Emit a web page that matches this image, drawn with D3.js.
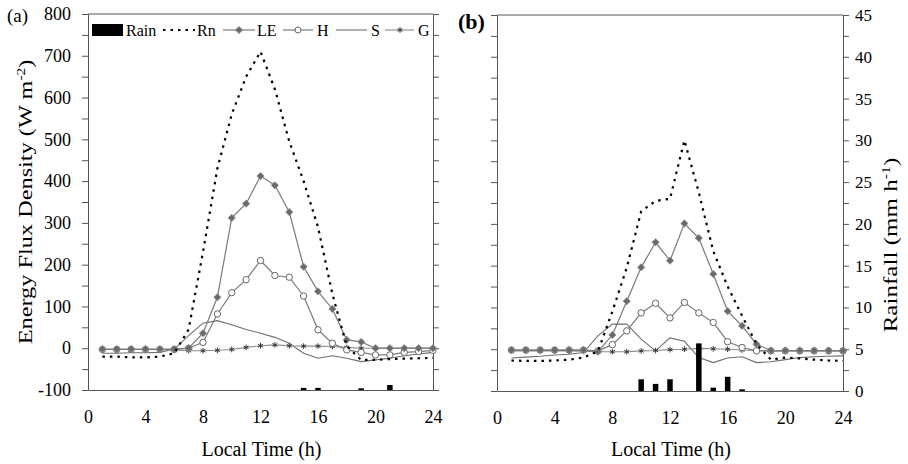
<!DOCTYPE html>
<html>
<head>
<meta charset="utf-8">
<script src="https://cdn.jsdelivr.net/npm/d3@7"></script>
<style>
    body { margin: 0; background: #fff; }
    svg text { font-family: "Liberation Serif", "Times New Roman", "DejaVu Serif", serif; fill: #000; }
    .axis text { font-size: 18px; }
    .axis.rain text { font-size: 17px; }
    .axis path, .axis line { stroke: #555; stroke-width: 1; }
</style>
</head>
<body>
<div id="chart"></div>
<script>
// Hour of day (categories)
const hours = [1, 2, 3, 4, 5, 6, 7, 8, 9, 10, 11, 12, 13, 14, 15, 16, 17, 18, 19, 20, 21, 22, 23, 24];

// Panel (a) - energy fluxes (W m-2) and rainfall (mm h-1)
const rnA = [-20, -20, -22, -22, -20, -12, 45, 230, 430, 560, 650, 710, 620, 495, 400, 290, 130, 5, -28, -28, -26, -25, -24, -23];
const leA = [-2, -2, -2, -2, -2, -2, 0, 36, 122, 312, 346, 412, 390, 326, 195, 136, 94, 20, 15, 0, 0, 0, 0, 0];
const hA = [-3, -3, -3, -3, -3, -3, 0, 14, 82, 133, 164, 210, 174, 170, 125, 44, 12, -4, -10, -16, -16, -10, -8, -5];
const sA = [-12, -12, -11, -11, -10, -2, 30, 60, 66, 56, 45, 36, 26, 12, -12, -24, -18, -24, -32, -28, -24, -18, -14, -10];
const gA = [-3, -3, -3, -3, -3, -4, -6, -6, -5, -3, 2, 6, 8, 6, 5, 5, 4, 2, 0, 0, 0, 0, 0, 0];
const rainA = [0, 0, 0, 0, 0, 0, 0, 0, 0, 0, 0, 0, 0, 0, 0.25, 0.25, 0, 0, 0.2, 0, 0.6, 0, 0, 0];

// Panel (b)
const rnB = [-27, -28, -28, -27, -25, -20, -5, 90, 195, 330, 355, 360, 500, 375, 235, 150, 80, 12, -25, -20, -22, -25, -27, -28];
const leB = [-2, -2, -2, -2, -2, -2, -6, 34, 115, 196, 256, 212, 301, 266, 180, 91, 56, 12, -3, -3, -3, -3, -3, -3];
const hB = [-2, -2, -2, -2, -2, -2, -4, 11, 44, 87, 110, 75, 112, 87, 64, 18, 4, -4, -4, -4, -4, -4, -4, -4];
const sB = [-21, -19, -17, -14, -12, -8, 32, 60, 60, 24, -4, 27, 19, -20, -32, -21, -18, -32, -30, -25, -20, -18, -17, -16];
const gB = [-4, -4, -4, -4, -4, -5, -6, -6, -6, -4, -3, -1, 0, 2, 1, 0, -2, -3, -4, -4, -4, -4, -4, -4];
const rainB = [0, 0, 0, 0, 0, 0, 0, 0, 0, 1.4, 0.85, 1.4, 0, 5.7, 0.4, 1.7, 0.2, 0, 0, 0, 0, 0, 0, 0];

// Axis ticks
const xTickLabels = [0, 4, 8, 12, 16, 20, 24];
const fluxTicks = [-100, -50, 0, 50, 100, 150, 200, 250, 300, 350, 400, 450, 500, 550, 600, 650, 700, 750, 800];
const rainTicks = [0, 2.5, 5, 7.5, 10, 12.5, 15, 17.5, 20, 22.5, 25, 27.5, 30, 32.5, 35, 37.5, 40, 42.5, 45];

const width = 908, height = 464;
const svg = d3.select('#chart').append('svg')
    .attr('width', width)
    .attr('height', height);

const lineGray = '#7a7a7a';
const asterisk = d3.symbolAsterisk || d3.symbolCross;
const diamond = d3.symbol().type(d3.symbolSquare).size(26);

function drawPanel(opt) {
    const x = d3.scaleLinear().domain([0, 24]).range([opt.left, opt.right]);
    const y = d3.scaleLinear().domain([-100, 800]).range([opt.bottom, opt.top]);
    const yRain = d3.scaleLinear().domain([0, 45]).range([opt.bottom, opt.top]);
    const g = svg.append('g');

    // frame: top line
    g.append('line')
        .attr('x1', opt.left).attr('x2', opt.right)
        .attr('y1', opt.top).attr('y2', opt.top)
        .attr('stroke', '#555');

    // bottom axis (no ticks)
    g.append('g').attr('class', 'axis')
        .attr('transform', `translate(0,${opt.bottom})`)
        .call(d3.axisBottom(x).tickValues(xTickLabels).tickSize(0).tickPadding(20).tickFormat(d3.format('d')));

    // left flux axis
    g.append('g').attr('class', 'axis')
        .attr('transform', `translate(${opt.left},0)`)
        .call(d3.axisLeft(y).tickValues(fluxTicks).tickSize(6).tickSizeOuter(0).tickPadding(11)
            .tickFormat(d => (opt.leftLabels && d % 100 === 0) ? d : ''));

    if (opt.rainAxis) {
        g.append('g').attr('class', 'axis rain')
            .attr('transform', `translate(${opt.right},0)`)
            .call(d3.axisRight(yRain).tickValues(rainTicks).tickSize(6).tickSizeOuter(0).tickPadding(6)
                .tickFormat(d => d % 5 === 0 ? d : ''));
    } else {
        g.append('g').attr('class', 'axis')
            .attr('transform', `translate(${opt.right},0)`)
            .call(d3.axisRight(y).tickValues(fluxTicks).tickSize(6).tickSizeOuter(0).tickFormat(''));
    }

    const line = d3.line()
        .x((d, i) => x(hours[i]))
        .y(d => y(d));

    // S - plain line
    g.append('path').datum(opt.s)
        .attr('d', line).attr('fill', 'none')
        .attr('stroke', '#6e6e6e').attr('stroke-width', 1.1);

    // G - asterisk line
    g.append('path').datum(opt.g)
        .attr('d', line).attr('fill', 'none')
        .attr('stroke', '#8a8a8a').attr('stroke-width', 1.1);
    g.selectAll('.gmark').data(opt.g).enter().append('path')
        .attr('transform', (d, i) => `translate(${x(hours[i])},${y(d)})`)
        .attr('d', d3.symbol().type(asterisk).size(22))
        .attr('fill', 'none').attr('stroke', '#333').attr('stroke-width', 1);

    // H - open circles
    g.append('path').datum(opt.h)
        .attr('d', line).attr('fill', 'none')
        .attr('stroke', lineGray).attr('stroke-width', 1.2);
    g.selectAll('.hmark').data(opt.h).enter().append('circle')
        .attr('cx', (d, i) => x(hours[i])).attr('cy', d => y(d))
        .attr('r', 3.2)
        .attr('fill', '#fff').attr('stroke', '#666').attr('stroke-width', 1);

    // LE - filled diamonds
    g.append('path').datum(opt.le)
        .attr('d', line).attr('fill', 'none')
        .attr('stroke', lineGray).attr('stroke-width', 1.2);
    g.selectAll('.lemark').data(opt.le).enter().append('path')
        .attr('transform', (d, i) => `translate(${x(hours[i])},${y(d)}) rotate(45)`)
        .attr('d', diamond)
        .attr('fill', '#6a6a6a').attr('stroke', '#8c8c8c').attr('stroke-width', 0.8);

    // Rn - dotted
    g.append('path').datum(opt.rn)
        .attr('d', line).attr('fill', 'none')
        .attr('stroke', '#000').attr('stroke-width', 2.2)
        .attr('stroke-dasharray', '2.5,5');

    // Rain bars
    const bw = 5.5;
    g.selectAll('.rainbar').data(hours.map((h, i) => ({ h: h, v: opt.rain[i] })).filter(d => d.v > 0))
        .enter().append('rect')
        .attr('x', d => x(d.h) - bw / 2)
        .attr('y', d => yRain(d.v))
        .attr('width', bw)
        .attr('height', d => yRain(0) - yRain(d.v))
        .attr('fill', '#000');

    // x title
    g.append('text')
        .attr('x', (opt.left + opt.right) / 2 + 1)
        .attr('y', 456)
        .attr('text-anchor', 'middle')
        .style('font-size', '20px')
        .text('Local Time (h)');

    // panel label
    g.append('text')
        .attr('x', opt.labelX).attr('y', opt.labelY)
        .style('font-size', opt.labelSize)
        .style('font-weight', opt.bold ? 'bold' : 'normal')
        .text(opt.label);

    return g;
}

drawPanel({
    left: 88, right: 433, top: 14, bottom: 390,
    rn: rnA, le: leA, h: hA, s: sA, g: gA, rain: rainA,
    leftLabels: true, rainAxis: false,
    label: '(a)', labelX: 7, labelY: 22, labelSize: '19px', bold: false
});

drawPanel({
    left: 497, right: 843, top: 15, bottom: 391,
    rn: rnB, le: leB, h: hB, s: sB, g: gB, rain: rainB,
    leftLabels: false, rainAxis: true,
    label: '(b)', labelX: 458, labelY: 29, labelSize: '22px', bold: true
});

// y-axis titles (stretched along their length like the source figure)
const yTitle = svg.append('text')
    .attr('transform', 'translate(32,202) rotate(-90) scale(1.28,1)')
    .attr('text-anchor', 'middle')
    .style('font-size', '19px');
yTitle.append('tspan').text('Energy Flux Density (W m');
yTitle.append('tspan').attr('dy', -7).style('font-size', '12px').text('-2');
yTitle.append('tspan').attr('dy', 7).text(')');

const rTitle = svg.append('text')
    .attr('transform', 'translate(897,245) rotate(-90) scale(1.32,1)')
    .attr('text-anchor', 'middle')
    .style('font-size', '19px');
rTitle.append('tspan').text('Rainfall (mm h');
rTitle.append('tspan').attr('dy', -7).style('font-size', '12px').text('-1');
rTitle.append('tspan').attr('dy', 7).text(')');

// Legend (panel a)
const lg = svg.append('g').style('font-size', '16px');
const ly = 30;
lg.append('rect').attr('x', 92).attr('y', ly - 6).attr('width', 31).attr('height', 12).attr('fill', '#000');
lg.append('text').attr('x', 126).attr('y', ly + 5.5).text('Rain');
lg.append('line').attr('x1', 163).attr('x2', 195).attr('y1', ly).attr('y2', ly)
    .attr('stroke', '#000').attr('stroke-width', 2).attr('stroke-dasharray', '2.5,5');
lg.append('text').attr('x', 197).attr('y', ly + 5.5).text('Rn');
lg.append('line').attr('x1', 223).attr('x2', 255).attr('y1', ly).attr('y2', ly).attr('stroke', lineGray).attr('stroke-width', 1.2);
lg.append('path').attr('transform', `translate(239,${ly}) rotate(45)`)
    .attr('d', diamond)
    .attr('fill', '#6a6a6a').attr('stroke', '#8c8c8c').attr('stroke-width', 0.8);
lg.append('text').attr('x', 257).attr('y', ly + 5.5).text('LE');
lg.append('line').attr('x1', 283).attr('x2', 313).attr('y1', ly).attr('y2', ly).attr('stroke', lineGray).attr('stroke-width', 1.2);
lg.append('circle').attr('cx', 298).attr('cy', ly).attr('r', 3)
    .attr('fill', '#fff').attr('stroke', '#666');
lg.append('text').attr('x', 317).attr('y', ly + 5.5).text('H');
lg.append('line').attr('x1', 336).attr('x2', 367).attr('y1', ly).attr('y2', ly).attr('stroke', '#6e6e6e').attr('stroke-width', 1.1);
lg.append('text').attr('x', 371).attr('y', ly + 5.5).text('S');
lg.append('line').attr('x1', 385).attr('x2', 414).attr('y1', ly).attr('y2', ly).attr('stroke', '#8a8a8a').attr('stroke-width', 1.1);
lg.append('path').attr('transform', `translate(400,${ly})`)
    .attr('d', d3.symbol().type(asterisk).size(22))
    .attr('fill', 'none').attr('stroke', '#333');
lg.append('text').attr('x', 418).attr('y', ly + 5.5).text('G');
</script>
</body>
</html>
